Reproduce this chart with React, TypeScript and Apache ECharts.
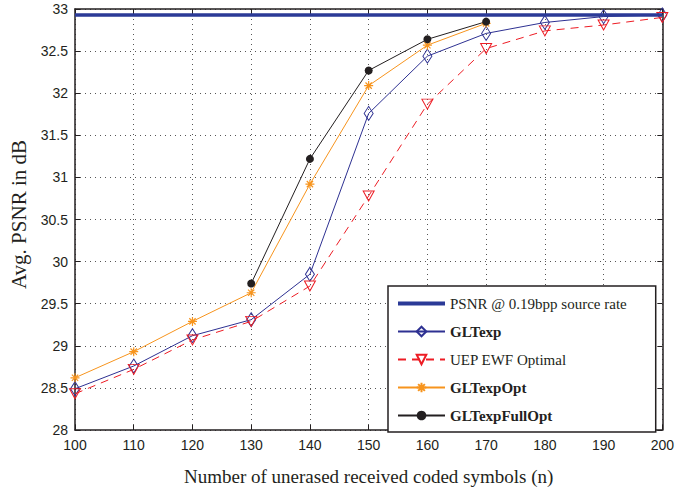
import React, { useEffect, useRef } from "react";
import * as echarts from "echarts";

const nAll = [100, 110, 120, 130, 140, 150, 160, 170, 180, 190, 200];
const baseline = 32.93;
const gltexp = [28.49, 28.76, 29.12, 29.31, 29.85, 31.76, 32.44, 32.71, 32.84, 32.91, 32.93];
const uep = [28.43, 28.72, 29.07, 29.29, 29.71, 30.78, 31.87, 32.53, 32.74, 32.81, 32.9];
const nOpt = [100, 110, 120, 130, 140, 150, 160, 170];
const gltexpOpt = [28.62, 28.93, 29.29, 29.63, 30.92, 32.09, 32.57, 32.83];
const nFull = [130, 140, 150, 160, 170];
const gltexpFullOpt = [29.74, 31.22, 32.27, 32.64, 32.85];
const xTicks = { min: 100, max: 200, interval: 10 };
const yTicks = { min: 28, max: 33, interval: 0.5 };

const pairs = (xs: number[], ys: number[]) => xs.map((x, i) => [x, ys[i]]);

const BLUE = "#2e3192";
const RED = "#ed1c24";
const ORANGE = "#f7941d";
const BLACK = "#231f20";
const NAVY = "#2b3a97";
const SANS = "Liberation Sans";
const SERIF = "Liberation Serif";

export default function App() {
  const ref = useRef<HTMLDivElement>(null);
  useEffect(() => {
    if (!ref.current) return;
    const chart = echarts.init(ref.current, undefined, { renderer: "svg" });
    const axisLine = { show: true, lineStyle: { color: BLACK, width: 1.5 } };
    const split = { show: true, lineStyle: { color: "#555", width: 1, type: [1, 4] as any } };
    const tick = { show: true, inside: true, length: 5, lineStyle: { color: BLACK } };
    chart.setOption({
      animation: false,
      backgroundColor: "#fff",
      grid: { left: 63, right: 11, top: 9, bottom: 52, containLabel: false },
      xAxis: [
        {
          type: "value",
          ...xTicks,
          position: "bottom",
          name: "Number of unerased received coded symbols (n)",
          nameLocation: "middle",
          nameGap: 37,
          nameTextStyle: { fontFamily: SERIF, fontSize: 19, color: BLACK },
          axisLine,
          axisTick: tick,
          axisLabel: { fontFamily: SANS, fontSize: 14, color: BLACK, margin: 8 },
          splitLine: split,
        },
        {
          type: "value",
          ...xTicks,
          position: "top",
          axisLine,
          axisTick: tick,
          axisLabel: { show: false },
          splitLine: { show: false },
        },
      ],
      yAxis: [
        {
          type: "value",
          ...yTicks,
          position: "left",
          name: "Avg. PSNR in dB",
          nameLocation: "middle",
          nameGap: 46,
          nameTextStyle: { fontFamily: SERIF, fontSize: 21, color: BLACK, padding: [0, 0, 0, 10] },
          axisLine,
          axisTick: tick,
          axisLabel: { fontFamily: SANS, fontSize: 14, color: BLACK, margin: 7 },
          splitLine: split,
        },
        {
          type: "value",
          ...yTicks,
          position: "right",
          axisLine,
          axisTick: tick,
          axisLabel: { show: false },
          splitLine: { show: false },
        },
      ],
      legend: {
        orient: "vertical",
        left: 388,
        top: 286,
        padding: [10, 29, 9, 9],
        itemGap: 13,
        itemWidth: 47,
        itemHeight: 12,
        backgroundColor: "#fff",
        borderColor: BLACK,
        borderWidth: 1.5,
        borderRadius: 0,
        textStyle: { fontFamily: SERIF, fontSize: 15, color: BLACK },
        data: [
          { name: "PSNR @ 0.19bpp source rate", icon: "path://M0,0H47V4H0Z" },
          { name: "GLTexp", textStyle: { fontFamily: SERIF, fontSize: 15, fontWeight: "bold" } },
          { name: "UEP EWF Optimal" },
          { name: "GLTexpOpt", textStyle: { fontFamily: SERIF, fontSize: 15, fontWeight: "bold" } },
          { name: "GLTexpFullOpt", textStyle: { fontFamily: SERIF, fontSize: 15, fontWeight: "bold" } },
        ],
      },
      series: [
        {
          name: "PSNR @ 0.19bpp source rate",
          type: "line",
          data: nAll.map((x) => [x, baseline]),
          symbol: "none",
          lineStyle: { color: NAVY, width: 3.5 },
          itemStyle: { color: NAVY },
          z: 5,
        },
        {
          name: "GLTexp",
          type: "line",
          data: pairs(nAll, gltexp),
          symbol: "diamond",
          symbolSize: [9, 14],
          lineStyle: { color: BLUE, width: 1 },
          itemStyle: { color: "rgba(255,255,255,0)", borderColor: BLUE, borderWidth: 1 },
          z: 3,
        },
        {
          name: "UEP EWF Optimal",
          type: "line",
          data: pairs(nAll, uep),
          symbol: "triangle",
          symbolRotate: 180,
          symbolSize: [11, 10],
          lineStyle: { color: RED, width: 1, type: [8, 6] as any },
          itemStyle: { color: "rgba(255,255,255,0)", borderColor: RED, borderWidth: 1 },
          z: 4,
        },
        {
          name: "GLTexpOpt",
          type: "line",
          data: pairs(nOpt, gltexpOpt),
          symbol: "path://M5,0L5,10M0,5L10,5M1.5,1.5L8.5,8.5M1.5,8.5L8.5,1.5",
          symbolSize: 9,
          lineStyle: { color: ORANGE, width: 1 },
          itemStyle: { color: ORANGE, borderColor: ORANGE, borderWidth: 1.2 },
          z: 3,
        },
        {
          name: "GLTexpFullOpt",
          type: "line",
          data: pairs(nFull, gltexpFullOpt),
          symbol: "circle",
          symbolSize: 8,
          lineStyle: { color: BLACK, width: 1 },
          itemStyle: { color: BLACK },
          z: 3,
        },
      ],
    });
    return () => chart.dispose();
  }, []);
  return <div ref={ref} style={{ width: 677, height: 491, position: "absolute", left: 0, top: 0 }} />;
}
